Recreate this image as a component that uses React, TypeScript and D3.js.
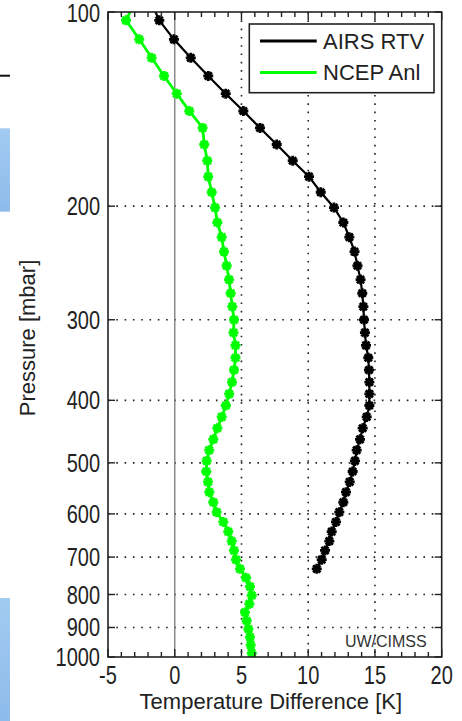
import React from 'react';
import * as d3 from 'd3';

// AIRS pressure levels (mbar) where the profiles are plotted
const pressureLevels = [
  96.1138, 103.017, 110.237, 117.777, 125.646, 133.846, 142.385, 151.266, 160.496, 170.078,
  180.018, 190.32, 200.989, 212.028, 223.441, 235.234, 247.408, 259.969, 272.919, 286.262,
  300, 314.137, 328.675, 343.618, 358.966, 374.724, 390.893, 407.474, 424.47, 441.882,
  459.712, 477.961, 496.63, 515.72, 535.232, 555.167, 575.525, 596.306, 617.511, 639.14,
  661.192, 683.667, 706.565, 729.886, 753.628, 777.79, 802.371, 827.371, 852.788, 878.62,
  904.866, 931.524, 958.591, 986.067
];

// temperature difference [K], AIRS retrieval (stops at 730 mbar)
const airsRtv = [
  -1.83, -1.16, -0.06, 1.2, 2.51, 3.82, 5.14, 6.39, 7.64, 8.84,
  10.06, 10.94, 11.93, 12.63, 13.08, 13.47, 13.69, 13.92, 14.05, 14.13,
  14.18, 14.25, 14.33, 14.5, 14.55, 14.58, 14.58, 14.58, 14.38, 14.08,
  13.88, 13.63, 13.5, 13.33, 13.11, 12.83, 12.63, 12.33, 12.08, 11.76,
  11.58, 11.26, 11.01, 10.64
];

// temperature difference [K], NCEP analysis
const ncepAnl = [
  -2.95, -3.65, -2.66, -1.73, -0.8, 0.15, 1.09, 2.09, 2.21, 2.44,
  2.51, 2.77, 3.02, 3.19, 3.52, 3.69, 3.89, 4.07, 4.19, 4.31,
  4.44, 4.4, 4.55, 4.55, 4.44, 4.29, 4.08, 3.83, 3.52, 3.19,
  2.89, 2.58, 2.39, 2.36, 2.49, 2.59, 2.89, 3.14, 3.64, 4.01,
  4.27, 4.44, 4.59, 4.89, 5.34, 5.64, 5.77, 5.59, 5.26, 5.39,
  5.52, 5.64, 5.69, 5.77
];

const xTicks = [-5, 0, 5, 10, 15, 20];
const yTicks = [100, 200, 300, 400, 500, 600, 700, 800, 900, 1000];
const seriesNames = ['AIRS RTV', 'NCEP Anl'];
const seriesColors = ['#000000', '#00ff00'];

const font = "'Liberation Sans', Arial, sans-serif";

const margin = { top: 12, right: 20.3, bottom: 64, left: 108 };
const W = 462;
const H = 721;

function asterisk(r: number) {
  const d = r * 0.72;
  return `M${-r},0H${r}M0,${-r}V${r}M${-d},${-d}L${d},${d}M${-d},${d}L${d},${-d}`;
}

export default function App() {
  const x = d3.scaleLinear().domain([-5, 20]).range([margin.left, W - margin.right]);
  const y = d3.scaleLog().domain([100, 1000]).range([margin.top, H - margin.bottom]);
  const [x0, x1] = x.range();
  const [y0, y1] = y.range();

  const line = d3.line<[number, number]>()
    .x(d => x(d[0]))
    .y(d => y(d[1]));

  const series = [airsRtv, ncepAnl].map(vals =>
    vals.map((t, i) => [t, pressureLevels[i]] as [number, number])
  );

  const minorX = d3.range(-5, 20.5, 1);

  // tick digits are tall and narrow in the original, squeeze them sideways
  const squeeze = 'scale(0.8,1)';

  return (
    <svg width={W} height={H} style={{ position: 'absolute', left: 0, top: 0, background: '#fff' }}>
      <defs>
        <clipPath id="plotArea">
          <rect x={x0} y={y0} width={x1 - x0} height={y1 - y0} />
        </clipPath>
        <linearGradient id="blueBar" x1="0" y1="0" x2="0" y2="1">
          <stop offset="0" stopColor="#a3cbf1" />
          <stop offset="1" stopColor="#8dbbea" />
        </linearGradient>
      </defs>

      {/* bits of the surrounding page at the left edge */}
      <line x1={0} x2={10} y1={75.7} y2={75.7} stroke="#111" strokeWidth={2} />
      <rect x={0} y={128.3} width={10} height={83.4} fill="url(#blueBar)" />
      <rect x={0} y={598} width={10} height={123} fill="url(#blueBar)" />

      {/* grid */}
      <g stroke="#222" strokeWidth={1.6} strokeDasharray="1.6 6.7">
        {yTicks.slice(1, -1).map(p => (
          <line key={p} x1={x0} x2={x1} y1={y(p)} y2={y(p)} />
        ))}
        {xTicks.slice(2, -1).map(t => (
          <line key={t} x1={x(t)} x2={x(t)} y1={y0} y2={y1} />
        ))}
      </g>

      {/* zero line */}
      <line x1={x(0)} x2={x(0)} y1={y0} y2={y1} stroke="#8a8a8a" strokeWidth={1.5} />

      {/* profiles */}
      <g clipPath="url(#plotArea)">
        {series.map((pts, si) => (
          <g key={si}>
            <path d={line(pts) || ''} fill="none" stroke={seriesColors[si]}
              strokeWidth={si === 0 ? 2.2 : 2.8} strokeLinejoin="round" />
            {pts.map((d, i) => (
              <g key={i} transform={`translate(${x(d[0])},${y(d[1])})`} fill={seriesColors[si]}>
                <circle r={2.2} />
                <path d={asterisk(5)} fill="none" stroke={seriesColors[si]} strokeWidth={2.8} />
              </g>
            ))}
          </g>
        ))}
      </g>

      {/* axes box and ticks */}
      <rect x={x0} y={y0} width={x1 - x0} height={y1 - y0} fill="none" stroke="#222" strokeWidth={1.6} />
      <g stroke="#222" strokeWidth={1.4}>
        {minorX.map(t => {
          const len = xTicks.includes(t) ? 8 : 5;
          return (
            <g key={t}>
              <line x1={x(t)} x2={x(t)} y1={y1} y2={y1 - len} />
              <line x1={x(t)} x2={x(t)} y1={y0} y2={y0 + len} />
            </g>
          );
        })}
        {yTicks.map(p => (
          <g key={p}>
            <line x1={x0} x2={x0 + 7} y1={y(p)} y2={y(p)} />
            <line x1={x1} x2={x1 - 7} y1={y(p)} y2={y(p)} />
          </g>
        ))}
      </g>

      {/* tick labels */}
      <g fontFamily={font} fontSize={25} fill="#222">
        {yTicks.map(p => (
          <text key={p} transform={`translate(${x0 - 8},${Math.max(y(p), 12.5)}) ${squeeze}`}
            dy="0.36em" textAnchor="end">{p}</text>
        ))}
        {xTicks.map(t => (
          <text key={t} transform={`translate(${x(t)},${y1 + 27}) ${squeeze}`} textAnchor="middle">{t}</text>
        ))}
      </g>

      {/* axis labels */}
      <text x={(x0 + x1) / 2 - 4} y={709} textAnchor="middle" fontFamily={font} fontSize={22} fill="#222">
        Temperature Difference [K]
      </text>
      <text transform={`translate(35,338) rotate(-90)`} textAnchor="middle" fontFamily={font}
        fontSize={22} fill="#222">
        Pressure [mbar]
      </text>

      <text x={x1 - 15} y={647.3} textAnchor="end" fontFamily={font} fontSize={16} fill="#333">
        UW/CIMSS
      </text>

      {/* legend */}
      <g>
        <rect x={249.3} y={24} width={184.7} height={68.7} fill="#fff" stroke="#222" strokeWidth={1.6} />
        {seriesNames.map((name, i) => (
          <g key={name} transform={`translate(0,${41 + i * 31.5})`}>
            <line x1={260} x2={316.7} y1={0} y2={0} stroke={seriesColors[i]} strokeWidth={3} />
            <text x={323} y={0} dy="0.36em" fontFamily={font} fontSize={22} fill="#222">{name}</text>
          </g>
        ))}
      </g>
    </svg>
  );
}
